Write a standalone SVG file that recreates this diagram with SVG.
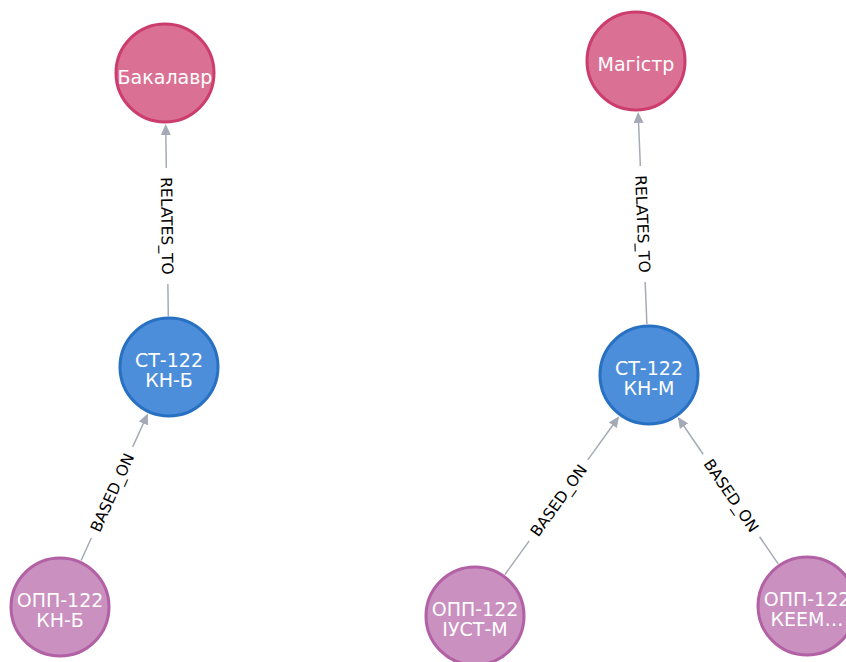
<svg xmlns="http://www.w3.org/2000/svg" width="846" height="662" viewBox="0 0 846 662">
<style>
.pink{fill:#DA7194;stroke:#CC3C6C;stroke-width:3}
.blue{fill:#4C8EDA;stroke:#2870C2;stroke-width:3}
.purple{fill:#C990C0;stroke:#B261A5;stroke-width:3}
.nt{font-family:"DejaVu Sans",sans-serif;font-size:19px;fill:#FFFFFF;text-anchor:middle}
.edge line{stroke:#A5ABB6;stroke-width:1.5;fill:none}
.el{font-family:"DejaVu Sans",sans-serif;font-size:15.5px;fill:#000000;text-anchor:middle}
</style>
<defs>
<marker id="arrow" viewBox="0 0 11 10" refX="9" refY="5" markerWidth="11" markerHeight="10" markerUnits="userSpaceOnUse" orient="auto">
<path d="M0,0 L11,5 L0,10 Z" fill="#A5ABB6"/>
</marker>
</defs>
<rect width="846" height="662" fill="#FFFFFF"/>
<g id="connectors">
<g class="edge" id="e1">
<line x1="168.31" y1="316.0" x2="167.87" y2="284.0"/>
<line x1="166.29" y1="168.0" x2="165.72" y2="126.0" marker-end="url(#arrow)"/>
<text class="el" transform="translate(167.08,226) rotate(89.22)" y="5.6">RELATES_TO</text>
</g>
<g class="edge" id="e2">
<line x1="646.89" y1="324.04" x2="645.15" y2="281.98"/>
<line x1="640.35" y1="166.08" x2="638.19" y2="113.95" marker-end="url(#arrow)"/>
<text class="el" transform="translate(642.75,224) rotate(87.63)" y="5.6">RELATES_TO</text>
</g>
<g class="edge" id="e3">
<line x1="81.09" y1="560.56" x2="91.34" y2="537.98"/>
<line x1="132.69" y1="446.93" x2="147.08" y2="415.25" marker-end="url(#arrow)"/>
<text class="el" transform="translate(112.0,492.5) rotate(-65.57)" y="5.6">BASED_ON</text>
</g>
<g class="edge" id="e4">
<line x1="504.86" y1="574.65" x2="529.21" y2="540.92"/>
<line x1="587.75" y1="459.84" x2="617.98" y2="417.96" marker-end="url(#arrow)"/>
<text class="el" transform="translate(558.5,500.4) rotate(-54.17)" y="5.6">BASED_ON</text>
</g>
<g class="edge" id="e5">
<line x1="778.21" y1="563.9" x2="759.63" y2="536.75"/>
<line x1="703.17" y1="454.21" x2="678.91" y2="418.74" marker-end="url(#arrow)"/>
<text class="el" transform="translate(731.4,495.5) rotate(55.63)" y="5.6">BASED_ON</text>
</g>
</g>
<g id="n-bakalavr">
<circle class="pink" cx="165" cy="73" r="49"/>
<text class="nt" x="165" y="84">Бакалавр</text>
</g>
<g id="n-magistr">
<circle class="pink" cx="636" cy="61" r="49"/>
<text class="nt" x="636" y="71">Магістр</text>
</g>
<g id="n-st-knb">
<circle class="blue" cx="169" cy="367" r="49"/>
<text class="nt" x="169" y="367">СТ-122</text>
<text class="nt" x="169" y="387">КН-Б</text>
</g>
<g id="n-st-knm">
<circle class="blue" cx="649" cy="375" r="49"/>
<text class="nt" x="649" y="375">СТ-122</text>
<text class="nt" x="649" y="395">КН-М</text>
</g>
<g id="n-opp-knb">
<circle class="purple" cx="60" cy="607" r="49"/>
<text class="nt" x="60" y="607">ОПП-122</text>
<text class="nt" x="60" y="627">КН-Б</text>
</g>
<g id="n-opp-iust">
<circle class="purple" cx="475" cy="616" r="49"/>
<text class="nt" x="475" y="616">ОПП-122</text>
<text class="nt" x="475" y="636">ІУСТ-М</text>
</g>
<g id="n-opp-keem">
<circle class="purple" cx="807" cy="606" r="49"/>
<text class="nt" x="807" y="606">ОПП-122</text>
<text class="nt" x="807" y="626">КЕЕМ…</text>
</g>
</svg>
